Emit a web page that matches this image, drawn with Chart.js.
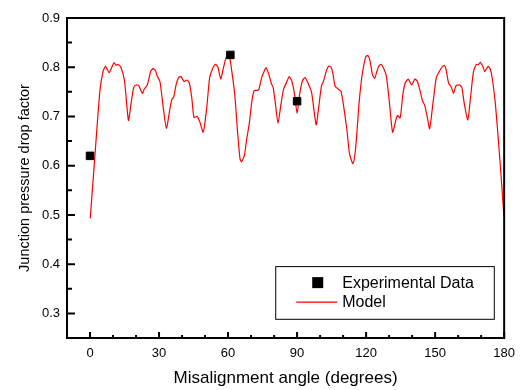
<!DOCTYPE html>
<html>
<head>
<meta charset="utf-8">
<script src="https://cdn.jsdelivr.net/npm/chart.js@4.4.1/dist/chart.umd.min.js"></script>
<style>
  body { margin: 0; background: #fff; }
</style>
</head>
<body>
<canvas id="myChart" width="523" height="390"></canvas>
<script>
// experimental points
var expAngle = [0, 61, 90];
var expValue = [0.620, 0.825, 0.731];

// model curve
var modelAngle = [0.1, 2.1, 4.3, 5.7, 6.8, 8.3, 10.4, 11.4, 12.1, 13.5, 15.0, 16.7, 17.8, 19.0, 20.0, 21.1, 22.8, 23.5, 24.9, 26.4,
  27.4, 28.5, 29.2, 30.4, 31.8, 33.2, 34.7, 35.6, 36.4, 37.5, 38.5, 39.5, 40.9, 42.1, 43.1, 44.2, 45.2, 46.6, 47.8, 49.2,
  50.6, 52.0, 53.2, 54.5, 55.6, 56.8, 57.8, 58.9, 59.8, 60.6, 61.8, 62.9, 64.2, 65.2, 65.9, 67.1, 68.0, 69.2, 70.3, 71.3,
  72.7, 73.4, 74.6, 75.6, 76.5, 77.7, 78.9, 79.6, 80.6, 81.7, 83.0, 84.1, 85.6, 86.6, 87.7, 88.9, 90.0, 91.1, 92.3, 93.4,
  94.9, 96.3, 98.3, 99.4, 100.6, 101.5, 102.7, 103.7, 104.8, 105.6, 106.5, 108.0, 109.1, 110.3, 111.7, 112.8, 114.3, 115.5, 116.9, 118.0,
  118.8, 119.8, 120.8, 121.7, 122.7, 123.7, 124.5, 125.5, 126.5, 127.6, 128.8, 130.2, 131.5, 132.7, 133.6, 134.8, 135.9, 136.9, 138.3, 139.8,
  141.2, 142.2, 143.3, 144.5, 145.5, 146.6, 147.6, 149.0, 150.5, 151.9, 153.0, 154.0, 154.7, 155.9, 157.0, 158.0, 159.0, 160.5, 161.6, 162.7,
  164.2, 165.4, 166.6, 167.9, 168.7, 169.6, 170.7, 171.6, 173.0, 174.0, 175.0, 176.2, 177.5, 178.7, 179.9];
var modelValue = [0.493, 0.618, 0.752, 0.792, 0.802, 0.789, 0.809, 0.804, 0.806, 0.799, 0.772, 0.692, 0.725, 0.759, 0.764, 0.763, 0.747, 0.755, 0.764, 0.792,
  0.797, 0.793, 0.782, 0.771, 0.719, 0.676, 0.715, 0.735, 0.740, 0.766, 0.779, 0.781, 0.771, 0.774, 0.769, 0.739, 0.698, 0.700, 0.688, 0.668,
  0.712, 0.779, 0.796, 0.806, 0.800, 0.776, 0.795, 0.816, 0.826, 0.823, 0.786, 0.745, 0.665, 0.614, 0.608, 0.621, 0.651, 0.685, 0.729, 0.752,
  0.753, 0.755, 0.779, 0.791, 0.799, 0.786, 0.766, 0.759, 0.725, 0.686, 0.725, 0.755, 0.771, 0.781, 0.772, 0.745, 0.706, 0.745, 0.772, 0.779,
  0.766, 0.749, 0.683, 0.719, 0.762, 0.772, 0.792, 0.802, 0.800, 0.786, 0.762, 0.755, 0.751, 0.719, 0.671, 0.624, 0.604, 0.638, 0.725, 0.775,
  0.799, 0.821, 0.824, 0.813, 0.786, 0.777, 0.789, 0.802, 0.806, 0.798, 0.782, 0.725, 0.668, 0.688, 0.702, 0.697, 0.742, 0.767, 0.776, 0.764,
  0.776, 0.772, 0.755, 0.732, 0.722, 0.698, 0.675, 0.725, 0.779, 0.792, 0.800, 0.804, 0.796, 0.767, 0.760, 0.747, 0.762, 0.764, 0.759, 0.725,
  0.693, 0.739, 0.789, 0.806, 0.805, 0.810, 0.802, 0.791, 0.802, 0.796, 0.772, 0.725, 0.651, 0.577, 0.497];

// axis ticks
var xLabelTicks = [0, 30, 60, 90, 120, 150, 180];
var yLabelTicks = [0.3, 0.4, 0.5, 0.6, 0.7, 0.8, 0.9];

var font = "'Liberation Sans', Arial, sans-serif";

function toPoints(xs, ys) {
  return xs.map(function (x, i) { return { x: x, y: ys[i] }; });
}
function isLabelled(list, v) {
  return list.some(function (t) { return Math.abs(t - v) < 1e-6; });
}

// frame + inward tick marks
var framePlugin = {
  id: 'frame',
  afterDatasetsDraw: function (chart) {
    var ctx = chart.ctx, a = chart.chartArea;
    var xs = chart.scales.x, ys = chart.scales.y;
    ctx.save();
    ctx.strokeStyle = '#000';
    ctx.lineWidth = 2;
    ctx.beginPath();
    xs.ticks.forEach(function (t) {
      var px = xs.getPixelForValue(t.value);
      var len = isLabelled(xLabelTicks, t.value) ? 6 : 3;
      ctx.moveTo(px, a.bottom);
      ctx.lineTo(px, a.bottom - len);
    });
    ys.ticks.forEach(function (t) {
      var py = ys.getPixelForValue(t.value);
      var len = isLabelled(yLabelTicks, t.value) ? 8 : 5;
      ctx.moveTo(a.left, py);
      ctx.lineTo(a.left + len, py);
    });
    ctx.stroke();
    ctx.strokeRect(a.left, a.top, a.right - a.left, a.bottom - a.top);
    ctx.restore();
  }
};

// legend box inside the plot, bottom right
var insetLegend = {
  id: 'insetLegend',
  afterDraw: function (chart) {
    var ctx = chart.ctx;
    var xs = chart.scales.x, ys = chart.scales.y;
    var left = xs.getPixelForValue(80.5), right = xs.getPixelForValue(175.5);
    var top = ys.getPixelForValue(0.396), bottom = ys.getPixelForValue(0.289);
    ctx.save();
    ctx.fillStyle = '#fff';
    ctx.fillRect(left, top, right - left, bottom - top);
    ctx.strokeStyle = '#000';
    ctx.lineWidth = 1;
    ctx.strokeRect(left + 0.5, top + 0.5, right - left, bottom - top);
    ctx.font = '16px ' + font;
    ctx.textBaseline = 'middle';
    var d0 = chart.data.datasets[0], d1 = chart.data.datasets[1];
    ctx.fillStyle = d0.backgroundColor;
    ctx.fillRect(left + 37, top + 11, 11, 11);
    ctx.fillStyle = '#000';
    ctx.fillText(d0.label, left + 67, top + 17);
    ctx.strokeStyle = d1.borderColor;
    ctx.lineWidth = 1.2;
    ctx.beginPath();
    ctx.moveTo(left + 21, top + 36);
    ctx.lineTo(left + 62, top + 36);
    ctx.stroke();
    ctx.fillText(d1.label, left + 67, top + 36);
    ctx.restore();
  }
};

var myCanvas = document.getElementById('myChart').getContext('2d');

var myChart = new Chart(myCanvas, {
  type: 'scatter',
  data: {
    datasets: [
      {
        label: 'Experimental Data',
        data: toPoints(expAngle, expValue),
        backgroundColor: '#000',
        borderColor: '#000',
        pointStyle: 'rect',
        pointRadius: 5.3,
        pointBorderWidth: 1,
        order: 0
      },
      {
        label: 'Model',
        data: toPoints(modelAngle, modelValue),
        showLine: true,
        borderColor: '#ff0000',
        backgroundColor: '#ff0000',
        borderWidth: 1.2,
        pointRadius: 0,
        tension: 0.2,
        order: 1
      }
    ]
  },
  options: {
    responsive: false,
    animation: false,
    layout: { padding: { top: 18, right: 12, left: 0, bottom: 0 } },
    plugins: {
      legend: { display: false },
      tooltip: { enabled: false }
    },
    scales: {
      x: {
        type: 'linear',
        min: -10,
        max: 180,
        grid: { display: false, drawTicks: false },
        border: { display: false },
        ticks: {
          stepSize: 10,
          autoSkip: false,
          maxRotation: 0,
          padding: 8,
          color: '#000',
          font: { family: font, size: 13 },
          callback: function (v) { return isLabelled(xLabelTicks, v) ? String(v) : ''; }
        },
        title: {
          display: true,
          text: 'Misalignment angle (degrees)',
          color: '#000',
          font: { family: font, size: 17 },
          padding: { top: 0, bottom: 1 }
        },
        afterFit: function (s) { s.height = 52; }
      },
      y: {
        min: 0.25,
        max: 0.9,
        grid: { display: false, drawTicks: false },
        border: { display: false },
        ticks: {
          stepSize: 0.05,
          autoSkip: false,
          padding: 7,
          color: '#000',
          font: { family: font, size: 13 },
          callback: function (v) { return isLabelled(yLabelTicks, v) ? v.toFixed(1) : ''; }
        },
        title: {
          display: true,
          text: 'Junction pressure drop factor',
          color: '#000',
          font: { family: font, size: 14.5 },
          padding: { top: 16, bottom: 0 }
        },
        afterFit: function (s) { s.width = 67; }
      }
    }
  },
  plugins: [framePlugin, insetLegend]
});
</script>
</body>
</html>
